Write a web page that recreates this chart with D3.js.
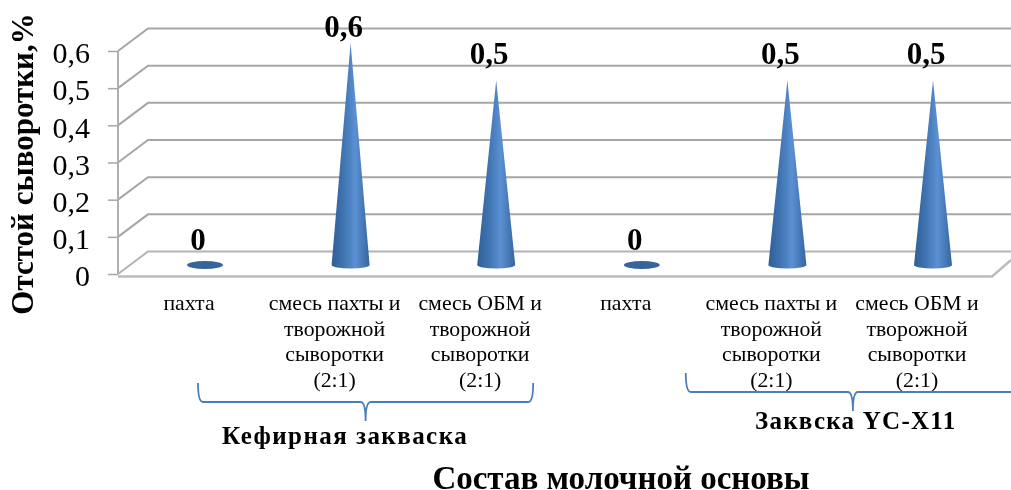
<!DOCTYPE html>
<html>
<head>
<meta charset="utf-8">
<script src="https://cdn.jsdelivr.net/npm/d3@7"></script>
<style>
  html, body { margin: 0; padding: 0; background: #fff; overflow: hidden; }
  text { font-family: "Liberation Serif", serif; fill: #000; }
  svg { display: block; }
</style>
</head>
<body>
<div id="chart-area"></div>
<script>
var categories = ["k1", "k2", "k3", "y1", "y2", "y3"];
var values = [0, 0.6, 0.5, 0, 0.5, 0.5];
var valueLabels = ["0", "0,6", "0,5", "0", "0,5", "0,5"];
var categoryLines = [
    ["пахта"],
    ["смесь пахты и", "творожной", "сыворотки", "(2:1)"],
    ["смесь ОБМ и", "творожной", "сыворотки", "(2:1)"],
    ["пахта"],
    ["смесь пахты и", "творожной", "сыворотки", "(2:1)"],
    ["смесь ОБМ и", "творожной", "сыворотки", "(2:1)"]
];
var yTicks = [0, 0.1, 0.2, 0.3, 0.4, 0.5, 0.6];

var width = 1011;
var height = 490;
var depthX = 30;
var depthY = -22.5;

var svg = d3.select("#chart-area").append("svg")
    .attr("width", width)
    .attr("height", height);

var defs = svg.append("defs");

var grad = defs.append("linearGradient")
    .attr("id", "cone-fill");
grad.append("stop").attr("offset", "0%").attr("stop-color", "#2f5f96");
grad.append("stop").attr("offset", "30%").attr("stop-color", "#3f73b0");
grad.append("stop").attr("offset", "62%").attr("stop-color", "#5b90d2");
grad.append("stop").attr("offset", "100%").attr("stop-color", "#35669f");

defs.append("filter")
    .attr("id", "soft")
    .append("feGaussianBlur")
    .attr("stdDeviation", 0.5);

var g = svg.append("g").attr("filter", "url(#soft)");

var x = d3.scalePoint()
    .domain(categories)
    .range([205, 933]);

var y = d3.scaleLinear()
    .domain([0, 0.6])
    .range([274, 51]);

// walls
var grid = g.append("g");
yTicks.forEach((t) => {
    grid.append("path")
        .attr("d", d3.line()([
            [118, y(t)],
            [118 + depthX, y(t) + depthY],
            [width, y(t) + depthY]
        ]))
        .attr("fill", "none")
        .attr("stroke", (t == 0) ? "#b4b4b4" : "#a6a6a6")
        .attr("stroke-width", 2);
});

// floor
grid.append("path")
    .attr("d", d3.line()([[118, 276.5], [992, 276.5], [width, 260]]))
    .attr("fill", "none")
    .attr("stroke", "#bcbcbc")
    .attr("stroke-width", 2.5);

// y Axis
var yAxisCall = d3.axisLeft(y)
    .tickValues(yTicks)
    .tickSize(10)
    .tickPadding(18)
    .tickFormat((d) => String(d).replace(".", ","));
var yAxis = g.append("g")
    .attr("class", "y axis")
    .attr("transform", "translate(118, 0)")
    .call(yAxisCall);
yAxis.select(".domain")
    .attr("d", "M0," + y(0.6) + "V" + y(0))
    .attr("stroke", "#b0b0b0")
    .attr("stroke-width", 2);
yAxis.selectAll(".tick line")
    .attr("stroke", "#a6a6a6")
    .attr("stroke-width", 1.5);
yAxis.selectAll(".tick text")
    .attr("font-size", 30)
    .attr("dy", "0.39em")
    .style("font-family", "Liberation Serif");

// cones
var coneHalf = 19;
var baseY = y(0) - 9;
g.selectAll(".cone")
    .data(values)
    .enter()
    .append("path")
        .attr("class", "cone")
        .attr("fill", (d) => d == 0 ? "#34659b" : "url(#cone-fill)")
        .attr("d", (d, i) => {
            var cx = x(categories[i]);
            if (d == 0) {
                return "M" + (cx - 18) + "," + baseY
                    + "A18,4 0 0 1 " + (cx + 18) + "," + baseY
                    + "A18,4 0 0 1 " + (cx - 18) + "," + baseY + "Z";
            }
            return "M" + (cx - coneHalf) + "," + baseY
                + "L" + cx + "," + (y(d) - 8)
                + "L" + (cx + coneHalf) + "," + baseY
                + "A" + coneHalf + ",3.5 0 0 1 " + (cx - coneHalf) + "," + baseY + "Z";
        });

// value labels
g.selectAll(".value-label")
    .data(values)
    .enter()
    .append("text")
        .attr("class", "value-label")
        .attr("x", (d, i) => x(categories[i]) - 7)
        .attr("y", (d) => Math.max(37, y(d) - 24))
        .attr("text-anchor", "middle")
        .attr("font-size", 31)
        .attr("font-weight", "bold")
        .text((d, i) => valueLabels[i]);

// category labels
var catLabels = g.selectAll(".cat-label")
    .data(categoryLines)
    .enter()
    .append("text")
        .attr("class", "cat-label")
        .attr("text-anchor", "middle")
        .attr("font-size", 21.8);
catLabels.selectAll("tspan")
    .data((d, i) => d.map((line) => ({ line: line, i: i })))
    .enter()
    .append("tspan")
        .attr("x", (d) => x(categories[d.i]) - 16)
        .attr("y", (d, j) => 310 + j * 25.7)
        .text((d) => d.line);

// braces
function brace(x0, x1, top, text, textX, textY, spacing) {
    var yb = top + 19;
    var mid = (x0 + x1) / 2;
    g.append("path")
        .attr("d", "M" + x0 + "," + top
            + "Q" + x0 + "," + yb + " " + (x0 + 5) + "," + yb
            + "H" + (mid - 5)
            + "Q" + mid + "," + yb + " " + mid + "," + (yb + 19)
            + "Q" + mid + "," + yb + " " + (mid + 5) + "," + yb
            + "H" + (x1 - 5)
            + "Q" + x1 + "," + yb + " " + x1 + "," + top)
        .attr("fill", "none")
        .attr("stroke", "#4a7ebb")
        .attr("stroke-width", 1.8);
    g.append("text")
        .attr("x", textX)
        .attr("y", textY)
        .attr("font-size", 25)
        .attr("font-weight", "bold")
        .attr("letter-spacing", spacing)
        .text(text);
}
brace(x("k1") - 7, x("k3") + 37, 383, "Кефирная закваска", 222, 444, 1.45);
brace(x("y1") + 44, 1020, 373, "Заквска YC-X11", 755, 429, 1.25);

// x Label
g.append("text")
    .attr("x", 621)
    .attr("y", 488.5)
    .attr("text-anchor", "middle")
    .attr("font-size", 33)
    .attr("font-weight", "bold")
    .text("Состав молочной основы");

// y Label
g.append("text")
    .attr("transform", "translate(33, 164) rotate(-90)")
    .attr("text-anchor", "middle")
    .attr("font-size", 31)
    .attr("font-weight", "bold")
    .text("Отстой сыворотки,%");
</script>
</body>
</html>
